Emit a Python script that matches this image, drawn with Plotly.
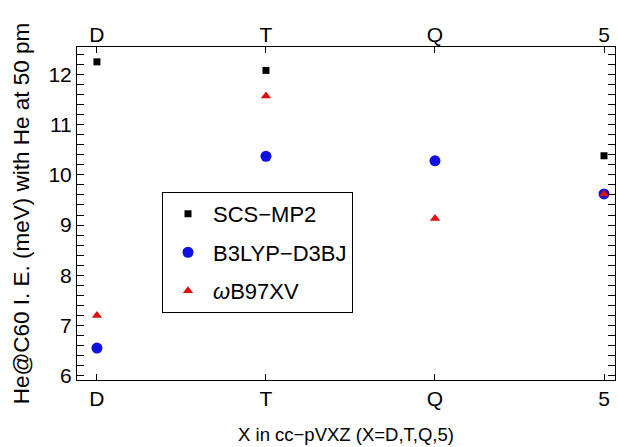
import plotly.graph_objects as go

categories = ["D", "T", "Q", "5"]
xpos = [0, 1, 2, 3]
scs_mp2 = [12.25, 12.08, 10.28, 10.38]
b3lyp = [6.55, 10.37, 10.28, 9.62]
wb97xv = [7.2, 11.57, 9.13, 9.62]

FONT = "Liberation Sans, Arial, sans-serif"

fig = go.Figure()
fig.add_trace(go.Scatter(x=xpos, y=scs_mp2, mode="markers", name="SCS−MP2",
                         legendgroup="a",
                         marker=dict(symbol="square", size=7, color="black")))
fig.add_trace(go.Scatter(x=xpos, y=b3lyp, mode="markers", name="B3LYP−D3BJ",
                         legendgroup="b",
                         marker=dict(symbol="circle", size=11, color="#1010e0")))
fig.add_trace(go.Scatter(x=xpos, y=wb97xv, mode="markers", name="<i>ω</i>B97XV",
                         legendgroup="c",
                         marker=dict(symbol="triangle-up", size=9, color="#dd1010")))
# invisible trace for top axis labels
fig.add_trace(go.Scatter(x=xpos, y=scs_mp2, xaxis="x2", mode="markers",
                         marker=dict(opacity=0), showlegend=False, hoverinfo="skip"))

fig.update_layout(
    width=618, height=447,
    margin=dict(l=77, r=3, t=47, b=67),
    paper_bgcolor="white", plot_bgcolor="white",
    font=dict(family=FONT, size=21, color="black"),
    xaxis=dict(range=[-0.118, 3.065], tickvals=xpos, ticktext=categories,
               ticks="inside", ticklen=6, tickcolor="black",
               showline=True, linecolor="black", linewidth=1, mirror=True,
               showgrid=False, zeroline=False,
               title=dict(text="X in cc−pVXZ (X=D,T,Q,5)", font=dict(size=18.5), standoff=18)),
    xaxis2=dict(range=[-0.118, 3.065], tickvals=xpos, ticktext=categories,
                overlaying="x", side="top", ticks="inside", ticklen=6, tickcolor="black",
                showgrid=False, zeroline=False, showline=False),
    yaxis=dict(range=[5.914, 12.546], tickvals=[6, 7, 8, 9, 10, 11, 12],
               ticks="inside", ticklen=7, tickcolor="black",
               minor=dict(dtick=0.2, ticks="inside", ticklen=4, tickcolor="black"),
               showline=True, linecolor="black", linewidth=1, mirror="allticks",
               showgrid=False, zeroline=False,
               title=dict(text="He@C60 I. E. (meV) with He at 50 pm", font=dict(size=22.5), standoff=12)),
    legend=dict(x=0.158, y=0.565, xanchor="left", yanchor="top",
                bordercolor="black", borderwidth=1, bgcolor="white",
                font=dict(size=22), tracegroupgap=7, itemwidth=40),
)

fig.write_html("out.html")
